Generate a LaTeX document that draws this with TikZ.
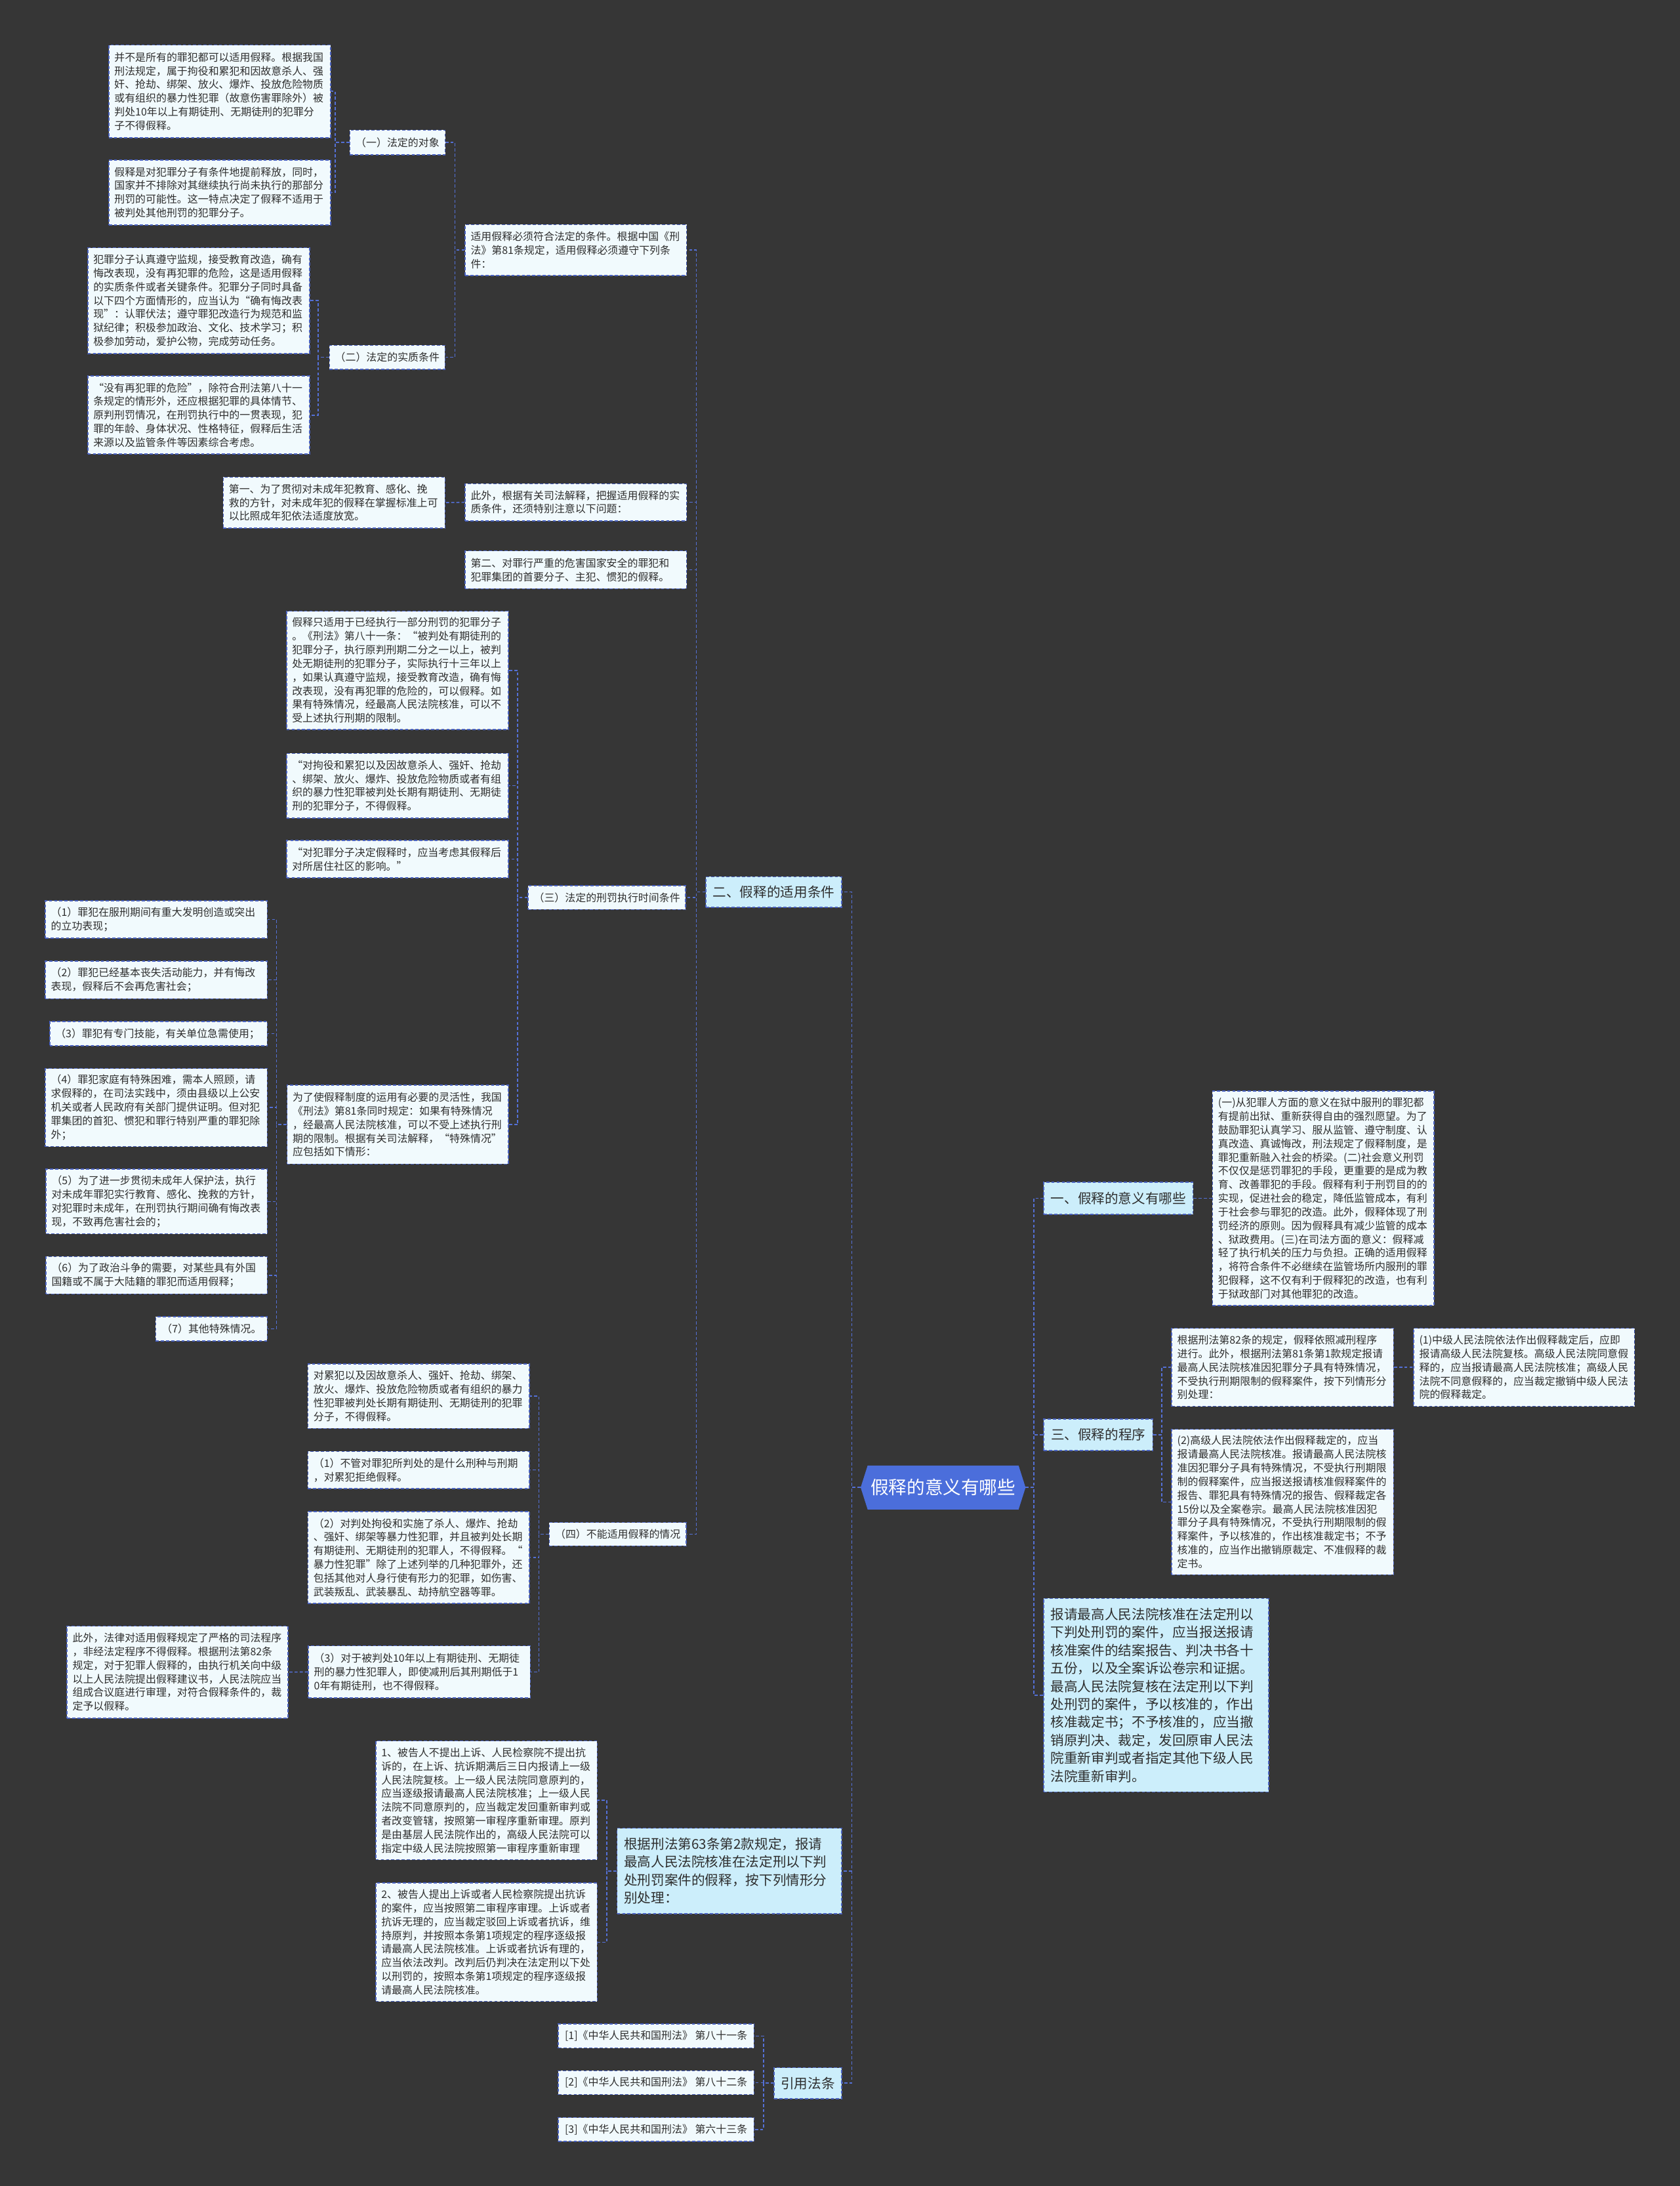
\documentclass[tikz,border=0pt]{standalone}
\usepackage{fontspec}
\setmainfont{Noto Sans CJK SC}
\usetikzlibrary{backgrounds,calc}
\definecolor{bgc}{HTML}{363636}
\definecolor{linec}{HTML}{5470D6}
\definecolor{boxc}{HTML}{4A62C0}
\definecolor{leaff}{HTML}{F1FAFD}
\definecolor{lvlf}{HTML}{CCEEFB}
\definecolor{rootf}{HTML}{4B6EDB}
\definecolor{txt}{HTML}{2E2E2E}
\begin{document}
\begin{tikzpicture}[x=1pt,y=-1pt,
  conn/.style={draw=linec, line width=0.75pt, dash pattern=on 2.2pt off 1.5pt},
  box/.style={draw=boxc, line width=0.7pt, dash pattern=on 2.2pt off 1.5pt, anchor=north west, text=txt},
  leaf/.style={box, fill=leaff, font=\fontsize{7.5pt}{9.8pt}\selectfont, align=left, inner xsep=4pt, inner ysep=2pt},
  lab/.style={box, fill=leaff, font=\fontsize{7.5pt}{9.8pt}\selectfont, align=center, inner sep=0pt},
  lvl/.style={box, fill=lvlf, font=\fontsize{9.7pt}{12.9pt}\selectfont, align=center, inner sep=0pt},
  big/.style={box, fill=lvlf, font=\fontsize{9.7pt}{12.9pt}\selectfont, align=left, inner xsep=5pt, inner ysep=2pt},
  rootbox/.style={anchor=north west, inner sep=0pt, text=white, font=\fontsize{13pt}{15pt}\selectfont, align=center},
]
\useasboundingbox (0,0) rectangle (1205,1568);

% ---------------- root ----------------
\node[rootbox, minimum width=117.9pt, minimum height=31.1pt] (root) at (617.4,1051.2) {假释的意义有哪些};

% ---------------- left: 二 ----------------
\node[lvl, minimum width=97.4pt, minimum height=22pt] (L2) at (506,628.5) {二、假释的适用条件};

\node[leaf, text width=150.9pt, minimum height=36.4pt] (C) at (333.3,160.8) {适用假释必须符合法定的条件。根据中国《刑\\法》第81条规定，适用假释必须遵守下列条\\件：};
\node[lab, minimum width=68.4pt, minimum height=17.7pt] (n1) at (250.6,93) {（一）法定的对象};
\node[leaf, text width=151.1pt, minimum height=66.4pt] (A) at (77.7,32) {并不是所有的罪犯都可以适用假释。根据我国\\刑法规定，属于拘役和累犯和因故意杀人、强\\奸、抢劫、绑架、放火、爆炸、投放危险物质\\或有组织的暴力性犯罪（故意伤害罪除外）被\\判处10年以上有期徒刑、无期徒刑的犯罪分\\子不得假释。};
\node[leaf, text width=151.1pt, minimum height=46.6pt] (B) at (77.7,114.4) {假释是对犯罪分子有条件地提前释放，同时，\\国家并不排除对其继续执行尚未执行的那部分\\刑罚的可能性。这一特点决定了假释不适用于\\被判处其他刑罚的犯罪分子。};
\node[lab, minimum width=82.9pt, minimum height=17.1pt] (n2) at (236,247.4) {（二）法定的实质条件};
\node[leaf, text width=151.1pt, minimum height=75.9pt] (D) at (62.6,177.3) {犯罪分子认真遵守监规，接受教育改造，确有\\悔改表现，没有再犯罪的危险，这是适用假释\\的实质条件或者关键条件。犯罪分子同时具备\\以下四个方面情形的，应当认为“确有悔改表\\现”：认罪伏法；遵守罪犯改造行为规范和监\\狱纪律；积极参加政治、文化、技术学习；积\\极参加劳动，爱护公物，完成劳动任务。};
\node[leaf, text width=151.1pt, minimum height=56pt] (E) at (62.6,269.4) {“没有再犯罪的危险”，除符合刑法第八十一\\条规定的情形外，还应根据犯罪的具体情节、\\原判刑罚情况，在刑罚执行中的一贯表现，犯\\罪的年龄、身体状况、性格特征，假释后生活\\来源以及监管条件等因素综合考虑。};

\node[leaf, text width=150.9pt, minimum height=26.7pt] (G) at (333.3,346.6) {此外，根据有关司法解释，把握适用假释的实\\质条件，还须特别注意以下问题：};
\node[leaf, text width=151.1pt, minimum height=36.5pt] (F) at (159.8,341.9) {第一、为了贯彻对未成年犯教育、感化、挽\\救的方针，对未成年犯的假释在掌握标准上可\\以比照成年犯依法适度放宽。};
\node[leaf, text width=150.9pt, minimum height=27.1pt] (H) at (333.3,394.8) {第二、对罪行严重的危害国家安全的罪犯和\\犯罪集团的首要分子、主犯、惯犯的假释。};

\node[lab, minimum width=113pt, minimum height=17pt] (n3) at (378.5,635) {（三）法定的刑罚执行时间条件};
\node[leaf, text width=151.2pt, minimum height=85pt] (I) at (205.2,438) {假释只适用于已经执行一部分刑罚的犯罪分子\\。《刑法》第八十一条：“被判处有期徒刑的\\犯罪分子，执行原判刑期二分之一以上，被判\\处无期徒刑的犯罪分子，实际执行十三年以上\\，如果认真遵守监规，接受教育改造，确有悔\\改表现，没有再犯罪的危险的，可以假释。如\\果有特殊情况，经最高人民法院核准，可以不\\受上述执行刑期的限制。};
\node[leaf, text width=151.2pt, minimum height=46.5pt] (J) at (205.2,540) {“对拘役和累犯以及因故意杀人、强奸、抢劫\\、绑架、放火、爆炸、投放危险物质或者有组\\织的暴力性犯罪被判处长期有期徒刑、无期徒\\刑的犯罪分子，不得假释。};
\node[leaf, text width=151.2pt, minimum height=26.9pt] (K) at (205.2,602.5) {“对犯罪分子决定假释时，应当考虑其假释后\\对所居住社区的影响。”};
\node[leaf, text width=150.8pt, minimum height=56.6pt] (Lb) at (205.6,778) {为了使假释制度的运用有必要的灵活性，我国\\《刑法》第81条同时规定：如果有特殊情况\\，经最高人民法院核准，可以不受上述执行刑\\期的限制。根据有关司法解释，“特殊情况”\\应包括如下情形：};

\node[leaf, text width=151.2pt, minimum height=26.8pt] (i1) at (32.2,645.8) {（1）罪犯在服刑期间有重大发明创造或突出\\的立功表现；};
\node[leaf, text width=151.2pt, minimum height=27pt] (i2) at (32.2,689) {（2）罪犯已经基本丧失活动能力，并有悔改\\表现，假释后不会再危害社会；};
\node[leaf, text width=148.1pt, minimum height=17.3pt] (i3) at (35.3,732.4) {（3）罪犯有专门技能，有关单位急需使用；};
\node[leaf, text width=151.2pt, minimum height=56pt] (i4) at (32.2,766) {（4）罪犯家庭有特殊困难，需本人照顾，请\\求假释的，在司法实践中，须由县级以上公安\\机关或者人民政府有关部门提供证明。但对犯\\罪集团的首犯、惯犯和罪行特别严重的罪犯除\\外；};
\node[leaf, text width=150.8pt, minimum height=46.3pt] (i5) at (32.6,838.3) {（5）为了进一步贯彻未成年人保护法，执行\\对未成年罪犯实行教育、感化、挽救的方针，\\对犯罪时未成年，在刑罚执行期间确有悔改表\\现，不致再危害社会的；};
\node[leaf, text width=150.8pt, minimum height=26.8pt] (i6) at (32.6,901) {（6）为了政治斗争的需要，对某些具有外国\\国籍或不属于大陆籍的罪犯而适用假释；};
\node[lab, minimum width=80pt, minimum height=17.3pt] (i7) at (111.4,944.2) {（7）其他特殊情况。};

\node[lab, minimum width=98.2pt, minimum height=16.8pt] (n4) at (393.7,1091.7) {（四）不能适用假释的情况};
\node[leaf, text width=150.9pt, minimum height=46.3pt] (R) at (220.5,978) {对累犯以及因故意杀人、强奸、抢劫、绑架、\\放火、爆炸、投放危险物质或者有组织的暴力\\性犯罪被判处长期有期徒刑、无期徒刑的犯罪\\分子，不得假释。};
\node[leaf, text width=150.9pt, minimum height=26.7pt] (S) at (220.5,1040.7) {（1）不管对罪犯所判处的是什么刑种与刑期\\，对累犯拒绝假释。};
\node[leaf, text width=150.9pt, minimum height=65.9pt] (T) at (220.5,1083.9) {（2）对判处拘役和实施了杀人、爆炸、抢劫\\、强奸、绑架等暴力性犯罪，并且被判处长期\\有期徒刑、无期徒刑的犯罪人，不得假释。“\\暴力性犯罪”除了上述列举的几种犯罪外，还\\包括其他对人身行使有形力的犯罪，如伤害、\\武装叛乱、武装暴乱、劫持航空器等罪。};
\node[leaf, text width=151.1pt, minimum height=37.4pt] (V) at (220.9,1180.2) {（3）对于被判处10年以上有期徒刑、无期徒\\刑的暴力性犯罪人，即使减刑后其刑期低于1\\0年有期徒刑，也不得假释。};
\node[leaf, text width=150.5pt, minimum height=66pt] (U) at (47.7,1166) {此外，法律对适用假释规定了严格的司法程序\\，非经法定程序不得假释。根据刑法第82条\\规定，对于犯罪人假释的，由执行机关向中级\\以上人民法院提出假释建议书，人民法院应当\\组成合议庭进行审理，对符合假释条件的，裁\\定予以假释。};

% ---------------- left: 63条 ----------------
\node[big, text width=151pt, minimum height=61.3pt] (X) at (442.3,1311) {根据刑法第63条第2款规定，报请\\最高人民法院核准在法定刑以下判\\处刑罚案件的假释，按下列情形分\\别处理：};
\node[leaf, text width=150.9pt, minimum height=85.2pt] (W) at (269.2,1248.4) {1、被告人不提出上诉、人民检察院不提出抗\\诉的，在上诉、抗诉期满后三日内报请上一级\\人民法院复核。上一级人民法院同意原判的，\\应当逐级报请最高人民法院核准；上一级人民\\法院不同意原判的，应当裁定发回重新审判或\\者改变管辖，按照第一审程序重新审理。原判\\是由基层人民法院作出的，高级人民法院可以\\指定中级人民法院按照第一审程序重新审理};
\node[leaf, text width=150.9pt, minimum height=84.9pt] (Y) at (269.2,1350.3) {2、被告人提出上诉或者人民检察院提出抗诉\\的案件，应当按照第二审程序审理。上诉或者\\抗诉无理的，应当裁定驳回上诉或者抗诉，维\\持原判，并按照本条第1项规定的程序逐级报\\请最高人民法院核准。上诉或者抗诉有理的，\\应当依法改判。改判后仍判决在法定刑以下处\\以刑罚的，按照本条第1项规定的程序逐级报\\请最高人民法院核准。};

% ---------------- left: 引用法条 ----------------
\node[lvl, minimum width=48.3pt, minimum height=22.3pt] (yy) at (555,1482.7) {引用法条};
\node[lab, minimum width=140.4pt, minimum height=17.1pt] (r1) at (400.1,1451.5) {[1]《中华人民共和国刑法》 第八十一条};
\node[lab, minimum width=140.4pt, minimum height=17.1pt] (r2) at (400.1,1485) {[2]《中华人民共和国刑法》 第八十二条};
\node[lab, minimum width=140.4pt, minimum height=17.1pt] (r3) at (400.1,1518.5) {[3]《中华人民共和国刑法》 第六十三条};

% ---------------- right side ----------------
\node[lvl, minimum width=107.1pt, minimum height=22.9pt] (L1) at (748.4,847.7) {一、假释的意义有哪些};
\node[leaf, text width=150.9pt, minimum height=153.7pt] (M) at (869.5,782.3) {(一)从犯罪人方面的意义在狱中服刑的罪犯都\\有提前出狱、重新获得自由的强烈愿望。为了\\鼓励罪犯认真学习、服从监管、遵守制度、认\\真改造、真诚悔改，刑法规定了假释制度，是\\罪犯重新融入社会的桥梁。(二)社会意义刑罚\\不仅仅是惩罚罪犯的手段，更重要的是成为教\\育、改善罪犯的手段。假释有利于刑罚目的的\\实现，促进社会的稳定，降低监管成本，有利\\于社会参与罪犯的改造。此外，假释体现了刑\\罚经济的原则。因为假释具有减少监管的成本\\、狱政费用。(三)在司法方面的意义：假释减\\轻了执行机关的压力与负担。正确的适用假释\\，将符合条件不必继续在监管场所内服刑的罪\\犯假释，这不仅有利于假释犯的改造，也有利\\于狱政部门对其他罪犯的改造。};

\node[lvl, minimum width=78.2pt, minimum height=22.5pt] (L3) at (748.4,1017.5) {三、假释的程序};
\node[leaf, text width=151.1pt, minimum height=56pt] (N) at (840.2,952.4) {根据刑法第82条的规定，假释依照减刑程序\\进行。此外，根据刑法第81条第1款规定报请\\最高人民法院核准因犯罪分子具有特殊情况，\\不受执行刑期限制的假释案件，按下列情形分\\别处理：};
\node[leaf, text width=150.4pt, minimum height=56pt] (O) at (1013.8,952.4) {(1)中级人民法院依法作出假释裁定后，应即\\报请高级人民法院复核。高级人民法院同意假\\释的，应当报请最高人民法院核准；高级人民\\法院不同意假释的，应当裁定撤销中级人民法\\院的假释裁定。};
\node[leaf, text width=151.1pt, minimum height=104.3pt] (P) at (840.2,1024.9) {(2)高级人民法院依法作出假释裁定的，应当\\报请最高人民法院核准。报请最高人民法院核\\准因犯罪分子具有特殊情况，不受执行刑期限\\制的假释案件，应当报送报请核准假释案件的\\报告、罪犯具有特殊情况的报告、假释裁定各\\15份以及全案卷宗。最高人民法院核准因犯\\罪分子具有特殊情况，不受执行刑期限制的假\\释案件，予以核准的，作出核准裁定书；不予\\核准的，应当作出撤销原裁定、不准假释的裁\\定书。};

\node[big, text width=151.4pt, minimum height=138.8pt] (Q) at (748.4,1146.2) {报请最高人民法院核准在法定刑以\\下判处刑罚的案件，应当报送报请\\核准案件的结案报告、判决书各十\\五份，以及全案诉讼卷宗和证据。\\最高人民法院复核在法定刑以下判\\处刑罚的案件，予以核准的，作出\\核准裁定书；不予核准的，应当撤\\销原判决、裁定，发回原审人民法\\院重新审判或者指定其他下级人民\\法院重新审判。};

% ---------------- vertical line coordinates ----------------
\coordinate (vRL) at (611,0);
\coordinate (vRR) at (741.7,0);
\coordinate (v2) at (499.5,0);
\coordinate (vC) at (326.4,0);
\coordinate (vn1) at (240.5,0);
\coordinate (vn2) at (228.3,0);
\coordinate (vn3) at (371.4,0);
\coordinate (vLb) at (198.4,0);
\coordinate (vn4) at (386.6,0);
\coordinate (vX) at (435.2,0);
\coordinate (vyy) at (547.7,0);
\coordinate (vL3) at (833.4,0);

% ---------------- connectors ----------------
\foreach \c in {L2,X,yy} \draw[conn] (root.west) -- (root.west -| vRL) |- (\c.east);
\foreach \c in {L1,L3,Q} \draw[conn] (root.east) -- (root.east -| vRR) |- (\c.west);
\foreach \c in {C,G,H,n3,n4} \draw[conn] (L2.west) -- (L2.west -| v2) |- (\c.east);
\foreach \c in {n1,n2} \draw[conn] (C.west) -- (C.west -| vC) |- (\c.east);
\foreach \c in {A,B} \draw[conn] (n1.west) -- (n1.west -| vn1) |- (\c.east);
\foreach \c in {D,E} \draw[conn] (n2.west) -- (n2.west -| vn2) |- (\c.east);
\draw[conn] (G.west) -- (F.east);
\foreach \c in {I,J,K,Lb} \draw[conn] (n3.west) -- (n3.west -| vn3) |- (\c.east);
\foreach \c in {i1,i2,i3,i4,i5,i6,i7} \draw[conn] (Lb.west) -- (Lb.west -| vLb) |- (\c.east);
\foreach \c in {R,S,T,V} \draw[conn] (n4.west) -- (n4.west -| vn4) |- (\c.east);
\draw[conn] (V.west) -- (U.east);
\foreach \c in {W,Y} \draw[conn] (X.west) -- (X.west -| vX) |- (\c.east);
\foreach \c in {r1,r2,r3} \draw[conn] (yy.west) -- (yy.west -| vyy) |- (\c.east);
\draw[conn] (L1.east) -- (M.west);
\foreach \c in {N,P} \draw[conn] (L3.east) -- (L3.east -| vL3) |- (\c.west);
\draw[conn] (N.east) -- (O.west);

% ---------------- background & root shape ----------------
\begin{scope}[on background layer]
  \fill[bgc] (0,0) rectangle (1205,1568);
  \fill[rootf] ($(root.north west)+(5pt,0pt)$) -- ($(root.north east)+(-5pt,0pt)$) -- (root.east) -- ($(root.south east)+(-5pt,0pt)$) -- ($(root.south west)+(5pt,0pt)$) -- (root.west) -- cycle;
\end{scope}
\end{tikzpicture}
\end{document}
